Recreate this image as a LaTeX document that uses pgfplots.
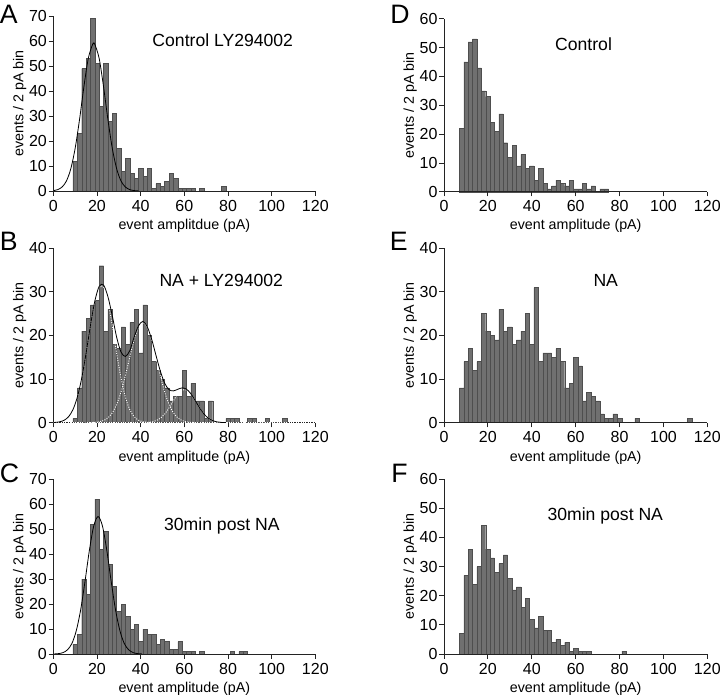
\documentclass[border=0pt]{standalone}
\usepackage{fontspec}
\setmainfont{Liberation Sans}
\usepackage{pgfplots}
\pgfplotsset{compat=1.18}
\definecolor{barfill}{RGB}{112,112,112}
\definecolor{baredge}{RGB}{78,78,78}
\definecolor{axcol}{RGB}{35,35,35}
\tikzset{ttl/.style={anchor=base, font=\fontsize{13.2}{15}\selectfont}}
\pgfplotsset{
 hist/.style={
  scale only axis, width=196.5pt, height=131.25pt,
  xmin=0, xmax=120, ymin=0, clip=false,
  axis x line*=bottom, axis y line*=left,
  axis line style={axcol, line width=0.6pt},
  every tick/.style={axcol, line width=0.6pt},
  tick align=outside, major tick length=3.5pt,
  xtick={0,20,...,120},
  /pgf/number format/assume math mode=true,
  tick label style={font=\fontsize{12}{14}\selectfont},
  xticklabel style={inner sep=3pt},
  yticklabel style={inner sep=1.2pt},
  label style={font=\fontsize{10.7}{12}\selectfont},
  xlabel style={at={(axis description cs:0.5,-0.199)}, anchor=center},
  ylabel style={at={(axis description cs:-0.128,0.5)}, anchor=center},
  ylabel={events / 2 pA bin},
  xlabel={event amplitude (pA)},
 },
 bars/.style={ybar interval, fill=barfill, draw=baredge, line width=0.3pt},
 fit/.style={black, line width=0.6pt, smooth, tension=0.5},
 comp/.style={white, line width=0.7pt, dash pattern=on 0.7pt off 1.1pt, smooth, tension=0.5},
}
\begin{document}
\begin{tikzpicture}
\useasboundingbox (0,0) rectangle (540pt,-522.75pt);

% ---------------- A ----------------
\begin{axis}[hist, axis on top, at={(40pt,-143.25pt)}, anchor=south west,
  ymax=70, ytick={0,10,...,70}, xlabel={event amplitdue (pA)}]
\addplot[bars] coordinates {(9,12)(11,23)(13,49)(15,53)(17,69)(19,51)(21,34)(23,51)(25,28)(27,31)(29,17)(31,8)(33,13)(35,7)(37,5)(39,9)(41,6)(43,9)(45,1)(47,3)(49,2)(51,4)(53,7)(55,5)(57,1)(59,1)(61,1)(63,1)(65,0)(67,1)(69,0)(71,0)(73,0)(75,0)(77,2)(79,0)};
\addplot[fit] coordinates {(0,0.17)(2,0.55)(4,1.6)(6,4.0)(8,8.9)(10,17.1)(12,28.6)(14,41.7)(16,53.0)(18,58.7)(18.5,59)(19,58.7)(21,53.0)(23,41.7)(25,28.6)(27,17.1)(29,8.9)(31,4.0)(33,1.6)(35,0.55)(37,0.17)(39,0.04)};
\node[ttl] at (axis cs:77.6,57.7) {Control LY294002};
\end{axis}

% ---------------- B ----------------
\begin{axis}[hist, at={(40pt,-317pt)}, anchor=south west, height=130.8pt,
  ymax=40, ytick={0,10,...,40}]
\addplot[bars] coordinates {(9,1)(11,8)(13,21)(15,24)(17,27)(19,28)(21,36)(23,21)(25,26)(27,18)(29,17)(31,22)(33,18)(35,23)(37,26)(39,16)(41,27)(43,20)(45,14)(47,12)(49,10)(51,8)(53,5)(55,6)(57,6)(59,12)(61,6)(63,9)(65,5)(67,5)(69,1)(71,5)(73,0)(75,0)(77,0)(79,1)(81,1)(83,1)(85,0)(87,0)(89,1)(91,1)(93,0)(95,0)(97,1)(99,0)(101,0)(103,0)(105,1)(107,0)};
\addplot[comp] coordinates {(0,0)(120,0)};
\addplot[comp] coordinates {(1,0.07)(3,0.21)(5,0.57)(7,1.38)(9,3.01)(11,5.87)(13,10.23)(15,15.95)(17,22.26)(19,27.80)(21,31.06)(23,31.06)(25,27.80)(27,22.26)(29,15.95)(31,10.23)(33,5.87)(35,3.01)(37,1.38)(39,0.57)(41,0.21)(43,0.07)(45,0.02)};
\addplot[comp] coordinates {(17,0.025)(19,0.075)(21,0.20)(23,0.50)(25,1.11)(27,2.26)(29,4.18)(31,7.05)(33,10.8)(35,15.0)(37,19.0)(39,21.9)(41,23)(43,21.9)(45,19.0)(47,15.0)(49,10.8)(51,7.05)(53,4.18)(55,2.26)(57,1.11)(59,0.50)(61,0.20)(63,0.075)(65,0.025)};
\addplot[comp] coordinates {(41,0.02)(43,0.06)(45,0.18)(47,0.47)(49,1.03)(51,1.99)(53,3.38)(55,5.03)(57,6.55)(59,7.48)(61,7.48)(63,6.55)(65,5.03)(67,3.38)(69,1.99)(71,1.03)(73,0.47)(75,0.18)(77,0.06)(79,0.02)};
\addplot[fit] coordinates {(0,0.02)(1,0.07)(3,0.21)(5,0.57)(7,1.38)(9,3.01)(11,5.87)(13,10.23)(15,15.95)(17,22.29)(19,27.88)(21,31.26)(23,31.56)(25,28.91)(27,24.52)(29,19.6)(31,16.2)(33,15.2)(35,16.5)(37,19.6)(39,22.2)(41,23.23)(43,22.03)(45,19.2)(47,15.47)(49,11.83)(51,9.04)(53,7.56)(55,7.29)(57,7.66)(59,7.98)(61,7.68)(63,6.63)(65,5.06)(67,3.38)(69,1.99)(71,1.03)(73,0.47)(75,0.18)(77,0.06)(79,0.02)};
\node[ttl] at (axis cs:76.9,31.2) {NA + LY294002};
\end{axis}

% ---------------- C ----------------
\begin{axis}[hist, axis on top, at={(40pt,-490.5pt)}, anchor=south west,
  ymax=70, ytick={0,10,...,70}]
\addplot[bars] coordinates {(9,4)(11,8)(13,30)(15,24)(17,52)(19,62)(21,42)(23,49)(25,36)(27,27)(29,17)(31,20)(33,15)(35,10)(37,12)(39,5)(41,10)(43,8)(45,8)(47,4)(49,6)(51,5)(53,2)(55,2)(57,5)(59,1)(61,1)(63,1)(65,0)(67,1)(69,0)(71,0)(73,0)(75,0)(77,0)(79,0)(81,1)(83,0)(85,1)(87,1)(89,0)};
\addplot[fit] coordinates {(0.5,0.04)(2.5,0.17)(4.5,0.58)(6.5,1.7)(8.5,4.2)(10.5,9.3)(12.5,17.6)(14.5,29.0)(16.5,41.4)(18.5,51.2)(20.5,55)(22.5,51.2)(24.5,41.4)(26.5,29.0)(28.5,17.6)(30.5,9.3)(32.5,4.2)(34.5,1.7)(36.5,0.58)(38.5,0.17)(40.5,0.04)};
\node[ttl] at (axis cs:77.2,49.6) {30min post NA};
\end{axis}

% ---------------- D ----------------
\begin{axis}[hist, axis on top, at={(333pt,-143.8pt)}, anchor=south west, width=197.5pt, height=129.75pt,
  ymax=60, ytick={0,10,...,60}]
\addplot[bars] coordinates {(7,22)(9,45)(11,52)(13,53)(15,43)(17,35)(19,33)(21,24)(23,21)(25,27)(27,17)(29,12)(31,16)(33,9)(35,13)(37,8)(39,9)(41,4)(43,8)(45,3)(47,1)(49,2)(51,4)(53,3)(55,2)(57,4)(59,1)(61,1)(63,3)(65,1)(67,2)(69,0)(71,1)(73,1)(75,0)};
\node[ttl] at (axis cs:63.6,49.1) {Control};
\end{axis}

% ---------------- E ----------------
\begin{axis}[hist, axis on top, at={(333pt,-317pt)}, anchor=south west, width=197.5pt, height=130.8pt,
  ymax=40, ytick={0,10,...,40}]
\addplot[bars] coordinates {(7,8)(9,14)(11,17)(13,12)(15,14)(17,25)(19,21)(21,20)(23,19)(25,26)(27,21)(29,22)(31,18)(33,19)(35,21)(37,25)(39,18)(41,31)(43,14)(45,16)(47,16)(49,15)(51,17)(53,14)(55,8)(57,9)(59,15)(61,13)(63,5)(65,7)(67,6)(69,5)(71,2)(73,1)(75,1)(77,2)(79,1)(81,0)(83,0)(85,0)(87,1)(89,0)(111,1)(113,0)};
\node[ttl] at (axis cs:73.7,31.2) {NA};
\end{axis}

% ---------------- F ----------------
\begin{axis}[hist, axis on top, at={(333pt,-490.5pt)}, anchor=south west, width=197.5pt,
  ymax=60, ytick={0,10,...,60}]
\addplot[bars] coordinates {(7,7)(9,27)(11,36)(13,24)(15,30)(17,44)(19,36)(21,33)(23,28)(25,31)(27,34)(29,26)(31,22)(33,23)(35,16)(37,19)(39,12)(41,9)(43,13)(45,8)(47,8)(49,4)(51,5)(53,3)(55,4)(57,1)(59,2)(61,1)(63,1)(65,1)(67,0)(81,1)(83,0)};
\node[ttl] at (axis cs:73.5,45.9) {30min post NA};
\end{axis}

% panel letters
\begin{scope}[every node/.style={inner sep=0pt, font=\fontsize{20}{20}\selectfont}]
\node[anchor=base west] at (-0.3pt,-17.5pt) {A};
\node[anchor=base west] at (-0.3pt,-187.5pt) {B};
\node[anchor=base west] at (-0.3pt,-361.5pt) {C};
\node[anchor=base east] at (307.5pt,-17.5pt) {D};
\node[anchor=base east] at (306pt,-187.5pt) {E};
\node[anchor=base east] at (306pt,-361.5pt) {F};
\end{scope}
\end{tikzpicture}
\end{document}
